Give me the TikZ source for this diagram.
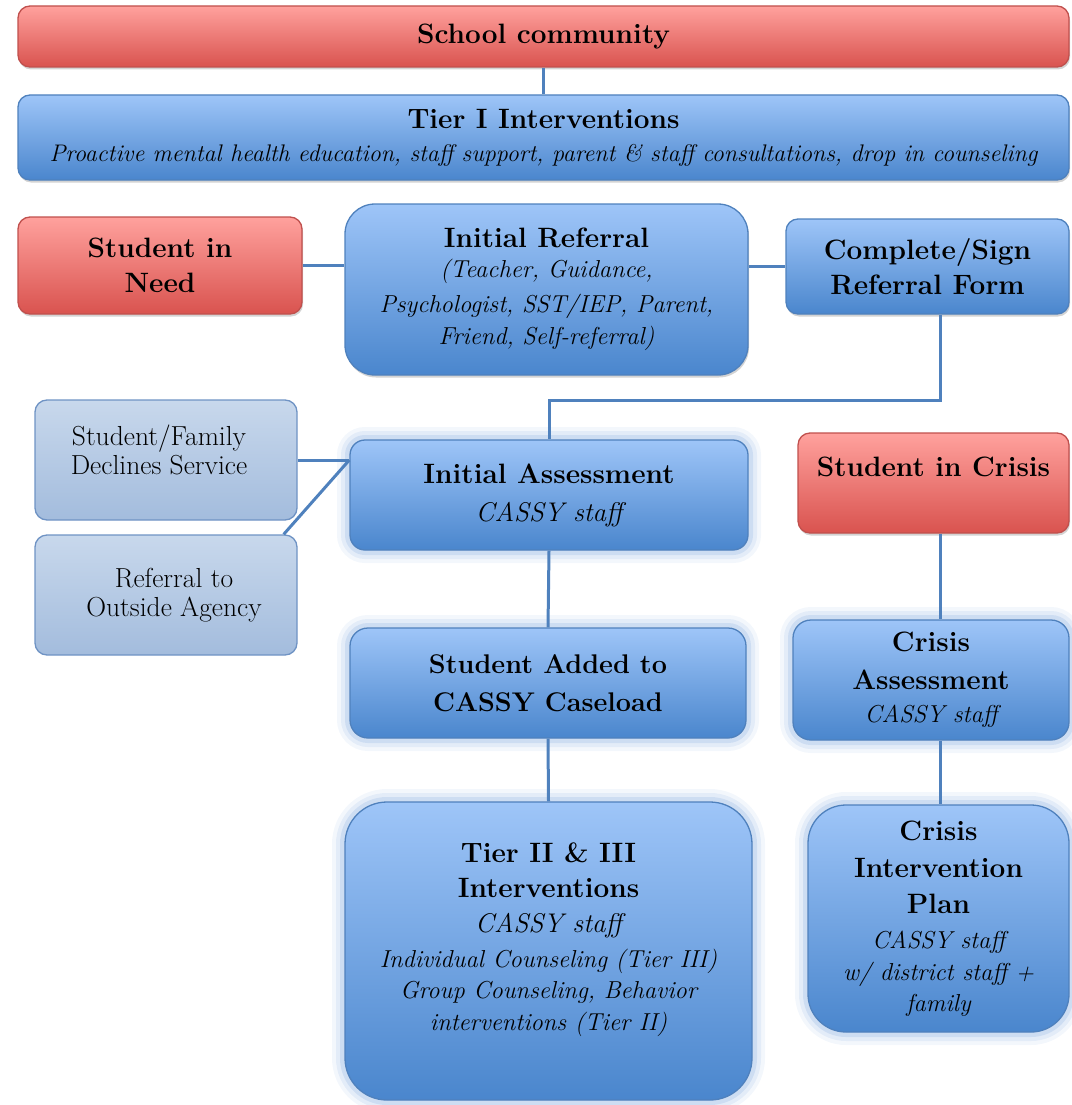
\documentclass[tikz,border=0pt]{standalone}
\usetikzlibrary{positioning, shadows}
\definecolor{RedTop}{HTML}{FFA19D}
\definecolor{RedBot}{HTML}{D9534F}
\definecolor{RedLine}{HTML}{C0504D}
\definecolor{BlueTop}{HTML}{9EC5F8}
\definecolor{BlueBot}{HTML}{4A86CD}
\definecolor{BlueLine}{HTML}{4F81BD}
\definecolor{GreyTop}{HTML}{C8D8EC}
\definecolor{GreyBot}{HTML}{A3BCDD}
\definecolor{GreyLine}{HTML}{6F93C4}
\definecolor{GlowBlue}{HTML}{5B8FD6}
\definecolor{LinkBlue}{HTML}{4F81BD}
\newcommand{\boxhead}{\fontsize{28}{35}\selectfont\bfseries}
\newcommand{\boxsub}{\fontsize{24.5}{32}\selectfont\mdseries\itshape}
\newcommand{\boxstaff}{\fontsize{27}{32}\selectfont\mdseries\itshape}
\newcommand{\boxplain}{\fontsize{27.5}{29}\selectfont}

\begin{document}
\begin{tikzpicture}[x=1pt, y=-1pt,
    box/.style={rounded corners=12pt, line width=1.3pt, align=center, inner sep=4pt},
    redbox/.style={box, draw=RedLine, top color=RedTop, bottom color=RedBot},
    bluebox/.style={box, draw=BlueLine, top color=BlueTop, bottom color=BlueBot},
    greybox/.style={box, draw=GreyLine, top color=GreyTop, bottom color=GreyBot},
    dropped/.style={drop shadow={shadow xshift=1pt, shadow yshift=-2.5pt, opacity=0.35}},
    glow/.style={preaction={draw=GlowBlue, line width=26pt, draw opacity=0.07},
                 preaction={draw=GlowBlue, line width=18pt, draw opacity=0.11},
                 preaction={draw=GlowBlue, line width=10pt, draw opacity=0.16}},
    link/.style={draw=LinkBlue, line width=3pt}]
    \useasboundingbox (0,0) rectangle (1071,1105);
    \coordinate (rightcol) at (940,0);

    % School wide bands
    \node[redbox, dropped, font=\boxhead, minimum width=1051pt, minimum height=61pt] (school) at (543.5,36.5)
        {School community};
    \node[bluebox, dropped, font=\boxhead, minimum width=1051pt, minimum height=85pt] (tierone) at (543.5,137.5)
        {Tier I Interventions\\[-2pt] \fontsize{24}{32}\selectfont\mdseries\itshape Proactive mental health education, staff support, parent \& staff consultations, drop in counseling};

    % Referral row
    \node[redbox, dropped, font=\boxhead, minimum width=284pt, minimum height=97pt] (need) at (160,265.5)
        {Student in\\ Need};
    \node[bluebox, dropped, font=\boxhead, rounded corners=30pt, minimum width=403pt, minimum height=171pt] (referral) at (546.5,289.5)
        {Initial Referral\\[-5pt] \boxsub (Teacher, Guidance,\\ \boxsub Psychologist, SST/IEP, Parent,\\[-3pt] \boxsub Friend, Self-referral)};
    \node[bluebox, dropped, font=\boxhead, minimum width=283pt, minimum height=95pt] (form) at (927.5,266.5)
        {Complete/Sign\\ Referral Form};

    % Assessment row
    \node[greybox, font=\boxplain, minimum width=262pt, minimum height=120pt] (declines) at (166,460)
        {\hspace*{-14pt}Student/Family\\ \hspace*{-14pt}Declines Service\\[-8pt] \mbox{}};
    \node[greybox, font=\boxplain, minimum width=262pt, minimum height=120pt] (outside) at (166,595)
        {\hspace*{16pt}Referral to\\ \hspace*{16pt}Outside Agency};
    \node[bluebox, glow, font=\boxhead, rounded corners=15pt, minimum width=398pt, minimum height=110pt] (assess) at (549,495)
        {Initial Assessment\\[3pt] \boxstaff CASSY staff};
    \node[redbox, dropped, font=\boxhead, minimum width=271pt, minimum height=100pt, text height=20pt, text depth=34pt] (crisis) at (933.5,483)
        {Student in Crisis};

    % Caseload row
    \node[bluebox, glow, font=\fontsize{27}{38}\selectfont\bfseries, rounded corners=18pt, minimum width=396pt, minimum height=110pt] (caseload) at (548,683)
        {Student Added to\\ CASSY Caseload};
    \node[bluebox, glow, font=\boxhead, rounded corners=18pt, minimum width=276pt, minimum height=120pt] (crisisassess) at (931,680)
        {Crisis\\[3pt] Assessment\\[-2pt] \boxsub CASSY staff};

    % Interventions row
    \node[bluebox, glow, font=\boxhead, rounded corners=42pt, minimum width=407pt, minimum height=298pt] (tiertwo) at (548.5,951)
        {Tier II \& III\\ Interventions\\ \boxstaff CASSY staff\\
         \boxsub Individual Counseling (Tier III)\\[-4pt] \boxsub Group Counseling, Behavior\\[-3pt] \boxsub interventions (Tier II)\\[-6pt] \mbox{}};
    \node[bluebox, glow, font=\boxhead, rounded corners=38pt, minimum width=261pt, minimum height=227pt] (plan) at (938.5,918.5)
        {Crisis\\[2pt] Intervention\\[1pt] Plan\\ \boxsub CASSY staff\\[-3pt] \boxsub w/ district staff +\\[-4pt] \boxsub family};

    % Connectors
    \draw[link] (school.south) -- (tierone.north);
    \draw[link] (need.east) -- (need.east -| referral.west);
    \draw[link] (form.west -| referral.east) -- (form.west);
    \draw[link] (form.south -| rightcol) -- ++(0,86) -| (assess.north);
    \coordinate (assessjoin) at (assess.west |- declines.east);
    \draw[link] (declines.east) -- (assessjoin);
    \draw[link] ([xshift=-14pt]outside.north east) -- (assessjoin);
    \draw[link] (assess.south) -- (caseload.north);
    \draw[link] (caseload.south) -- (tiertwo.north);
    \draw[link] (crisis.south -| rightcol) -- (crisisassess.north -| rightcol);
    \draw[link] (crisisassess.south -| rightcol) -- (plan.north -| rightcol);
\end{tikzpicture}
\end{document}
